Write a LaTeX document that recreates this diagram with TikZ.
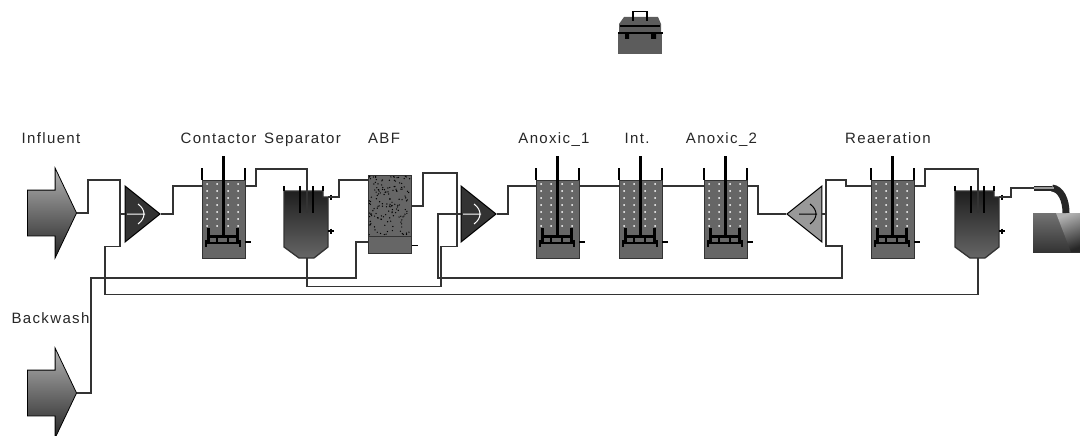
\documentclass[tikz,border=0pt]{standalone}
\usepackage{fontspec}
\newfontfamily\labelfont[LetterSpace=9]{Liberation Sans}
\usepackage{tikz}
\usetikzlibrary{arrows.meta,shapes.geometric,shapes.arrows}
\definecolor{TankGrey}{HTML}{666666}
\definecolor{DarkUnit}{HTML}{333333}
\definecolor{LightUnit}{HTML}{999999}
\newcommand{\mixtank}[2]{%
  \begin{scope}[shift={(#2,168)}]
    \node[tankbody,anchor=north west] (#1) at (0,12) {};
    \foreach \dotx in {5,15,26,36}
      \foreach \doty in {16,23,...,60}
        \fill[white] (\dotx,\doty) circle (1);
    \draw[wall] (0,0) -- (0,12) (43,0) -- (43,12);
    \draw[line width=3.2pt] (21.5,-12) -- (21.5,68);
    \draw[line width=3pt] (6.5,60) -- (6.5,75) (35,60) -- (35,75) (6.5,68) -- (35,68);
    \draw[wall] (3,75) -- (39,75) (15,69) -- (15,75) (26,69) -- (26,75) (4,72) -- (4,79) (38,72) -- (38,79);
    \draw[wall] (43,74) -- (49,74);
    \coordinate (#1in) at (0,18);
    \coordinate (#1out) at (43,18);
  \end{scope}}
\newcommand{\clarifier}[2]{%
  \begin{scope}[shift={(#2,186)}]
    \shade[clarbody] (0,5) -- (39,5) -- (39,11) -- (44,11) -- (44,61) -- (30,72) -- (15,72) -- (0,61) -- cycle;
    \node[inner sep=0pt,minimum width=46pt,minimum height=67pt,anchor=north west] (#1) at (0,5) {};
    \draw[wall] (0,0) -- (0,5) (39,0) -- (39,5);
    \draw[wall] (16,0) -- (16,27) (29,0) -- (29,27);
    \draw[wall] (44,45) -- (50,45) (47,42.5) -- (47,47.5) (47,8.5) -- (47,13.5);
    \coordinate (#1in) at (23,27);
    \coordinate (#1out) at (44,11);
  \end{scope}}
\newcommand{\streamhead}[3]{%
  \draw[#3,line width=1pt] (#1,#2) -- ++(18,0) (#1+11,#2-10) .. controls (#1+19,#2-4) and (#1+19,#2+4) .. (#1+11,#2+10);}
\begin{document}
\begin{tikzpicture}[
  x=1pt,y=-1pt,
  every node/.style={font=\labelfont\fontsize{15}{15}\selectfont,inner sep=0pt},
  pipe/.style={line width=1.7pt,black!80},
  wall/.style={line width=1.3pt,black},
  tag/.style={text=black!85,anchor=base},
  feed/.style={draw=black,line width=0.8pt,single arrow,single arrow head extend=22pt,single arrow tip angle=129,single arrow head indent=0pt,text height=45pt,text depth=0pt,minimum height=49pt,anchor=tip,top color=black!30,bottom color=black!85},
  tankbody/.style={draw=black!80,line width=1.3pt,fill=TankGrey,minimum width=43pt,minimum height=78pt},
  clarbody/.style={draw=black!80,line width=1.3pt,top color=black!88,bottom color=TankGrey},
  wedge/.style={isosceles triangle,isosceles triangle apex angle=78,isosceles triangle stretches,minimum width=56pt,minimum height=35pt,draw=black,line width=1pt}
]
\useasboundingbox (0,0) rectangle (1080,436);
\node[feed] (influent) at (77,213) {};
\node[feed] (backwash) at (77,393) {};
\node[wedge,fill=DarkUnit] (mixa) at (138.5,214) {};
\node[wedge,fill=DarkUnit] (mixb) at (474.5,214) {};
\node[wedge,fill=LightUnit,shape border rotate=180] (split) at (808.5,214) {};
\streamhead{127}{214}{white}
\streamhead{463}{214}{white}
\streamhead{799}{214}{black}
\mixtank{contactor}{202}
\clarifier{separator}{284}
\node[draw=black!80,line width=1.3pt,fill=TankGrey,minimum width=43pt,minimum height=61pt,anchor=north west] (abf) at (368,175) {};
\node[draw=black!80,line width=1.3pt,fill=TankGrey,minimum width=43pt,minimum height=17pt,anchor=north west] (abfbase) at (368,236) {};
\pgfmathsetseed{11}
\foreach \i in {1,...,150}
  \fill[black] ({369+rnd*41},{176+rnd*59}) circle (0.7);
\mixtank{anoxica}{536}
\mixtank{interm}{619}
\mixtank{anoxicb}{704}
\mixtank{reaer}{871}
\clarifier{settler}{955}
% effluent
\node[minimum width=47pt,minimum height=39pt,anchor=north west,top color=black!55,bottom color=black!80] (effluent) at (1033,213) {};
\shade[top color=black!30,bottom color=black!85,shading angle=20] (1056,213) -- (1080,213) -- (1080,252) -- (1071,252) -- cycle;
\draw[line width=7pt,black!85] (1052,188) .. controls (1061,189) and (1066,200) .. (1066,213);
\draw[line width=5pt,black!85] (1034,188) -- (1052,188);
\draw[line width=2.6pt,black!40] (1034,188) -- (1054,188);
\coordinate (pipeend) at (1034,188);
% toolbox
\node[fill=TankGrey!90!black,minimum width=44pt,minimum height=22pt,anchor=north west] (toolbox) at (618,32) {};
\fill[TankGrey!90!black] (619,32) -- (619,24) -- (624,17) -- (658,17) -- (661,24) -- (661,32) -- cycle;
\draw[line width=1.6pt] (633,21) -- (633,11.5) -- (648,11.5) (647,11.5) -- (647,21);
\draw[line width=1.8pt] (620,26) -- (660,26) (618,33) -- (663,33);
\fill (625,33) rectangle (629,39) (651,33) rectangle (656,39);
% streams
\coordinate (mixain) at (120,214);
\coordinate (mixbin) at (457,214);
\coordinate (splitout) at (826,214);
\coordinate (abfin) at (368,242);
\draw[pipe] (influent.tip) -- ++(11,0) -- ++(0,-33) -| (mixain);
\draw[pipe] (mixain) -- (mixa.lower side);
\draw[pipe] (mixa.apex) -- ++(12,0) |- (contactorin);
\draw[pipe,-{Stealth[length=3pt,width=4pt]}] (contactorout) -- ++(11,0) -- ++(0,-17) -| (separatorin);
\draw[pipe] (separatorout) -- ++(11,0) |- (abf.west |- 0,180);
\draw[pipe] (abf.east) -- ++(11,0) -- ++(0,-33) -| (mixbin);
\draw[pipe] (mixbin) -- (mixb.lower side);
\draw[pipe] (mixb.apex) -- ++(11,0) |- (anoxicain);
\draw[pipe] (anoxicaout) -- (intermin);
\draw[pipe] (intermout) -- (anoxicbin);
\draw[pipe] (anoxicbout) -- ++(11,0) |- (split.apex);
\draw[pipe] (split.lower side) -- (splitout);
\draw[pipe] (splitout) |- ++(20,-34) |- (reaerin);
\draw[pipe] (splitout) -- ++(0,32) -- ++(16,0) -- ++(0,32) -- ++(-404,0) |- (mixbin);
\draw[pipe,-{Stealth[length=3pt,width=4pt]}] (reaerout) -- ++(11,0) -- ++(0,-17) -| (settlerin);
\draw[pipe] (settlerout) -- ++(12,0) -- ++(0,-9) -- (pipeend);
\draw[pipe] (settler.south) -- ++(0,36) -- ++(-873,0) -- ++(0,-48) -| (mixain);
\draw[pipe] (separator.south) -- ++(0,28) -- ++(134,0) -- ++(0,-40) -| (mixbin);
\draw[pipe] (backwash.tip) -- ++(14,0) -- ++(0,-115) -- ++(265,0) |- (abfin);
\draw[wall] (abfbase.east) -- ++(6,0);
% labels
\node[tag] (influenttag) at (51,143) {Influent};
\node[tag] (contactortag) at (218.5,143) {Contactor};
\node[tag] (separatortag) at (302.5,143) {Separator};
\node[tag] (abftag) at (384,143) {ABF};
\node[tag] (anoxicatag) at (554,143) {Anoxic\_1};
\node[tag] (intermtag) at (637,143) {Int.};
\node[tag] (anoxicbtag) at (721.5,143) {Anoxic\_2};
\node[tag] (reaertag) at (888,143) {Reaeration};
\node[tag] (backwashtag) at (50.5,323) {Backwash};
\end{tikzpicture}
\end{document}
